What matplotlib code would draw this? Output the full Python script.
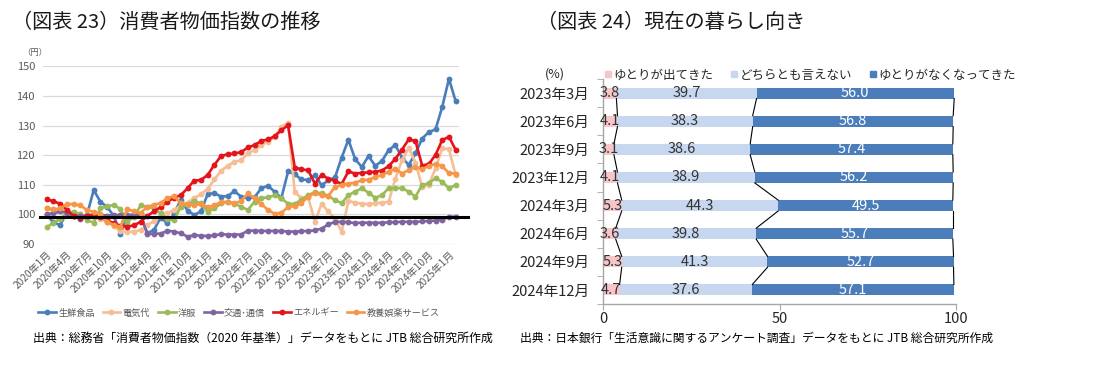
import matplotlib
matplotlib.use("Agg")
import matplotlib.pyplot as plt
from matplotlib.lines import Line2D
import numpy as np

plt.rcParams['font.family'] = ['Noto Sans CJK JP', 'DejaVu Sans']

# ---------------- Left chart data (monthly, 2020/1 - 2025/2) ----------------
tick_labels = ["2020年1月", "2020年4月", "2020年7月", "2020年10月",
               "2021年1月", "2021年4月", "2021年7月", "2021年10月",
               "2022年1月", "2022年4月", "2022年7月", "2022年10月",
               "2023年1月", "2023年4月", "2023年7月", "2023年10月",
               "2024年1月", "2024年4月", "2024年7月", "2024年10月",
               "2025年1月"]

fresh_food = [99.8, 97.3, 96.4, 100.6, 99.5, 98.5, 99.8, 108.2, 104.3, 102.5,
              99.5, 93.5, 99.2, 99.4, 100.0, 93.6, 94.8, 98.9, 97.0, 100.3,
              105.0, 101.3, 99.8, 101.0, 106.8, 107.2, 106.0, 106.2, 107.8, 106.0,
              105.4, 105.8, 108.8, 109.7, 107.6, 105.5, 114.5, 113.5, 111.8, 111.6,
              113.3, 109.8, 111.5, 112.5, 119.2, 125.2, 118.7, 116.0, 119.7, 116.4,
              118.0, 121.7, 123.4, 119.2, 116.7, 120.6, 125.6, 127.8, 128.7, 136.3,
              145.8, 138.2]

electricity = [102.0, 101.5, 101.5, 101.0, 100.5, 100.0, 99.5, 99.0, 98.5, 97.5,
               96.0, 94.3, 94.0, 94.2, 94.7, 96.3, 97.8, 99.8, 100.5, 101.5,
               103.0, 104.0, 105.5, 106.8, 108.6, 111.8, 114.6, 116.4, 117.8, 118.3,
               120.6, 121.8, 123.4, 124.6, 126.2, 129.5, 130.9, 107.5, 105.5, 105.8,
               97.5, 103.5, 101.0, 98.5, 94.2, 104.5, 104.0, 103.6, 103.5, 103.7,
               104.0, 104.2, 112.0, 118.3, 122.5, 117.5, 109.3, 110.0, 115.5, 122.3,
               122.0, 113.3]

clothing = [95.6, 97.2, 98.5, 100.5, 100.9, 100.0, 98.1, 97.2, 102.0, 102.7,
            103.2, 101.8, 97.5, 99.2, 103.0, 102.6, 102.0, 100.3, 98.4, 98.0,
            102.6, 103.2, 104.6, 103.7, 100.9, 102.0, 103.7, 104.3, 103.6, 102.6,
            101.5, 104.3, 105.4, 105.8, 106.4, 105.4, 103.6, 103.5, 105.0, 106.5,
            107.5, 107.1, 106.3, 104.8, 103.8, 106.5, 107.7, 108.8, 107.3, 105.6,
            106.5, 108.8, 109.0, 108.8, 107.7, 106.0, 109.9, 110.5, 112.2, 111.0,
            108.8, 109.9]

transport = [100.2, 100.3, 101.0, 100.5, 99.6, 99.5, 99.6, 100.0, 99.8, 99.6,
             99.7, 99.8, 99.8, 99.9, 99.9, 93.3, 93.5, 93.5, 94.5, 94.2,
             93.6, 92.5, 93.0, 92.8, 92.7, 92.9, 93.3, 93.2, 93.2, 93.2,
             94.5, 94.5, 94.4, 94.4, 94.4, 94.4, 94.2, 94.2, 94.3, 94.4,
             94.6, 95.2, 96.6, 97.5, 97.5, 97.3, 97.1, 97.2, 97.2, 97.1,
             97.2, 97.3, 97.4, 97.5, 97.5, 97.5, 97.6, 97.8, 97.9, 98.2,
             99.2, 99.2]

energy = [105.1, 104.4, 103.6, 101.5, 99.5, 98.8, 99.5, 99.8, 99.0, 98.0,
          97.0, 96.2, 95.9, 96.3, 97.5, 99.5, 101.0, 102.5, 104.3, 105.6,
          106.5, 108.8, 111.4, 111.6, 113.3, 116.7, 119.7, 120.3, 120.6, 121.0,
          122.6, 123.4, 124.8, 125.3, 126.4, 128.4, 130.1, 115.8, 115.2, 114.9,
          110.4, 113.3, 112.1, 111.3, 110.3, 114.5, 113.8, 114.0, 114.2, 114.4,
          114.8, 116.3, 118.7, 121.9, 125.3, 124.8, 116.5, 117.0, 120.1, 125.1,
          126.2, 121.8]

recreation = [102.0, 101.7, 102.0, 103.4, 103.5, 103.0, 101.5, 100.8, 100.0, 97.5,
              96.4, 95.8, 101.8, 101.0, 100.5, 102.5, 103.3, 103.8, 105.5, 106.2,
              103.7, 103.5, 103.2, 103.5, 102.5, 103.0, 104.2, 104.2, 103.7, 104.5,
              107.1, 105.4, 103.5, 101.5, 100.2, 100.5, 102.5, 102.8, 103.8, 106.0,
              107.2, 106.5, 106.2, 109.3, 109.9, 110.4, 110.7, 111.5, 111.7, 112.6,
              113.3, 114.4, 115.4, 113.8, 115.0, 116.0, 115.2, 116.4, 117.0, 116.3,
              113.9, 113.8]

series_names = ["生鮮食品", "電気代", "洋服", "交通･通信", "エネルギー", "教養娯楽サービス"]
series_colors = ["#4A7EBB", "#F5BE96", "#9BBB59", "#8064A2", "#E3141B", "#F79646"]
reference_level = 99

# ---------------- Right chart data ----------------
periods = ["2023年3月", "2023年6月", "2023年9月", "2023年12月",
           "2024年3月", "2024年6月", "2024年9月", "2024年12月"]
better = [3.8, 4.1, 3.1, 4.1, 5.3, 3.6, 5.3, 4.7]
neither = [39.7, 38.3, 38.6, 38.9, 44.3, 39.8, 41.3, 37.6]
worse = [56.0, 56.8, 57.4, 56.2, 49.5, 55.7, 52.7, 57.1]
bar_names = ["ゆとりが出てきた", "どちらとも言えない", "ゆとりがなくなってきた"]
bar_colors = ["#F6C6C8", "#C6D7EF", "#4A7DBA"]

# ---------------- Figure ----------------
W, H = 1112, 373
fig = plt.figure(figsize=(W / 100, H / 100), dpi=100)


def box(x0, y0, x1, y1):
    return [x0 / W, 1 - y1 / H, (x1 - x0) / W, (y1 - y0) / H]


# ---- Left chart ----
ax1 = fig.add_axes(box(43.4, 66.3, 459, 244))
all_series = [fresh_food, electricity, clothing, transport, energy, recreation]
x = np.arange(len(fresh_food))
handles = []
for vals, col, name in zip(all_series, series_colors, series_names):
    ln, = ax1.plot(x, vals, color=col, lw=1.9, marker='o', ms=4.2,
                   markeredgewidth=0, label=name, zorder=3)
    handles.append(ln)
ax1.set_xlim(-0.5, len(x) - 0.5)
ax1.set_ylim(90, 150)
ax1.set_yticks(range(90, 151, 10))
ax1.grid(axis='y', color='#D9D9D9', lw=0.9)
ax1.set_axisbelow(True)
for s in ax1.spines.values():
    s.set_visible(False)
ax1.tick_params(axis='y', length=0, labelsize=8, colors='#595959', pad=6)
ax1.set_xticks(np.arange(0, len(x), 3))
ax1.set_xticklabels(tick_labels, rotation=45, ha='right', rotation_mode='anchor')
ax1.tick_params(axis='x', length=0, labelsize=7.3, colors='#595959', pad=4)
ax1.axhline(reference_level, xmin=-0.008, xmax=1.022, color='black', lw=2.2,
            clip_on=False, zorder=6)

fig.text(22 / W, 1 - 53 / H, "（円）", fontsize=6, color='#595959',
         ha='left', va='center')
fig.text(12 / W, 1 - 22 / H, "（図表 23）消費者物価指数の推移", fontsize=14.5,
         color='#1a1a1a', ha='left', va='center')

fig.legend(handles=handles, loc='center', bbox_to_anchor=(239 / W, 1 - 313 / H),
           ncol=6, frameon=False, fontsize=6.6, handlelength=1.9,
           handletextpad=0.25, columnspacing=0.9, labelcolor='#595959')

fig.text(33 / W, 1 - 338 / H,
         "出典：総務省「消費者物価指数（2020 年基準）」データをもとに JTB 総合研究所作成",
         fontsize=8.6, color='black', ha='left', va='center')

# ---- Right chart ----
ax2 = fig.add_axes(box(603, 79, 956, 304))
ypos = np.arange(len(periods))
h = 0.39
left = np.zeros(len(periods))
cums = []
for vals, col, name, tcol in zip([better, neither, worse], bar_colors, bar_names,
                                 ['#333333', '#333333', 'white']):
    vals = np.array(vals)
    ax2.barh(ypos, vals, left=left, height=h, color=col, label=name, zorder=2)
    for yy, l, v in zip(ypos, left, vals):
        ax2.text(l + v / 2, yy, f"{v:.1f}", ha='center', va='center',
                 fontsize=10.5, color=tcol, zorder=4)
    left = left + vals
    cums.append(left.copy())
# series lines connecting segment ends
for c in cums:
    for k in range(len(periods) - 1):
        ax2.plot([c[k], c[k + 1]], [ypos[k] + h / 2, ypos[k + 1] - h / 2],
                 color='black', lw=0.8, zorder=3)
ax2.set_xlim(0, 100)
ax2.set_ylim(len(periods) - 0.5, -0.5)
ax2.set_yticks(ypos)
ax2.set_yticklabels(periods)
ax2.set_yticks(np.arange(-0.5, len(periods), 1), minor=True)
ax2.tick_params(axis='y', which='major', length=0, labelsize=10.5, colors='#262626', pad=10)
ax2.tick_params(axis='y', which='minor', length=4, color='#A6A6A6', direction='out')
ax2.set_xticks([0, 50, 100])
ax2.tick_params(axis='x', length=4, color='#A6A6A6', labelsize=10.5, pad=2)
ax2.tick_params(axis='x', labelcolor='#262626')
for side in ['top', 'right']:
    ax2.spines[side].set_visible(False)
for side in ['left', 'bottom']:
    ax2.spines[side].set_color('#A6A6A6')
    ax2.spines[side].set_linewidth(1.0)

leg_handles = [Line2D([], [], ls='none', marker='s', ms=5, color=c) for c in bar_colors]
fig.legend(handles=leg_handles, labels=bar_names, loc='center',
           bbox_to_anchor=(810 / W, 1 - 75 / H), ncol=3, frameon=False, fontsize=9,
           handlelength=0.6, handletextpad=0.2, columnspacing=1.3, labelcolor='#262626')
fig.text(545 / W, 1 - 74 / H, "(%)", fontsize=9, color='#262626', ha='left', va='center')

fig.text(537 / W, 1 - 22 / H, "（図表 24）現在の暮らし向き", fontsize=14.5,
         color='#1a1a1a', ha='left', va='center')
fig.text(520 / W, 1 - 338 / H,
         "出典：日本銀行「生活意識に関するアンケート調査」データをもとに JTB 総合研究所作成",
         fontsize=8.5, color='black', ha='left', va='center')

fig.savefig("out.png", dpi=100)
